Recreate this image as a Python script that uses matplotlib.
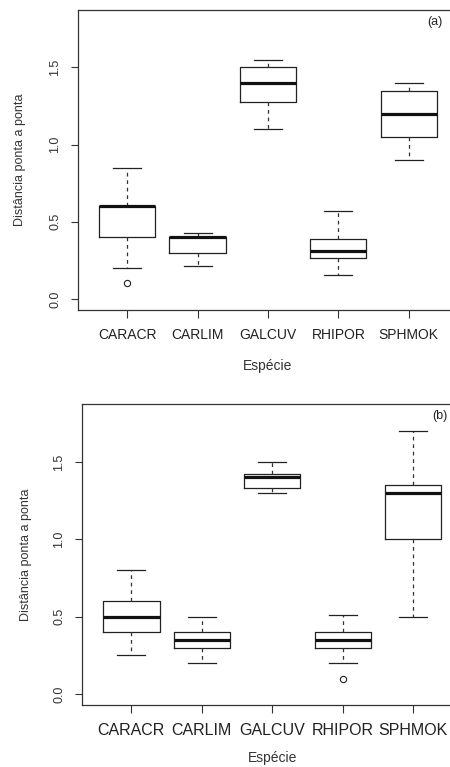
import matplotlib
matplotlib.use("Agg")
import matplotlib.pyplot as plt

plt.rcParams['font.family'] = ['Liberation Sans', 'DejaVu Sans']

species = ["CARACR", "CARLIM", "GALCUV", "RHIPOR", "SPHMOK"]

# panel (a): five-number summaries per species
a_whislo = [0.20, 0.215, 1.10, 0.155, 0.90]
a_q1     = [0.40, 0.30, 1.275, 0.265, 1.05]
a_med    = [0.60, 0.40, 1.40, 0.31, 1.20]
a_q3     = [0.60, 0.40, 1.50, 0.39, 1.35]
a_whishi = [0.85, 0.43, 1.55, 0.57, 1.40]
a_fliers = [[0.105], [], [], [], []]

# panel (b)
b_whislo = [0.25, 0.20, 1.30, 0.20, 0.50]
b_q1     = [0.40, 0.30, 1.33, 0.30, 1.00]
b_med    = [0.50, 0.35, 1.40, 0.35, 1.30]
b_q3     = [0.60, 0.40, 1.42, 0.40, 1.35]
b_whishi = [0.80, 0.50, 1.50, 0.51, 1.70]
b_fliers = [[], [], [], [0.10], []]

yticks = [0.0, 0.5, 1.0, 1.5]
ytick_labels = ["0.0", "0.5", "1.0", "1.5"]


def make_stats(lo, q1, med, q3, hi, fl):
    return [dict(whislo=a, q1=b, med=c, q3=d, whishi=e, fliers=f, label=s)
            for a, b, c, d, e, f, s in zip(lo, q1, med, q3, hi, fl, species)]


def draw_panel(ax, stats, tag, xfont, ypad, xpad):
    ax.bxp(stats, positions=range(1, 6), widths=0.8,
           boxprops=dict(color='#222222', linewidth=0.9),
           medianprops=dict(color='#111111', linewidth=2.3, solid_capstyle='butt'),
           whiskerprops=dict(color='#333333', linewidth=0.9, linestyle=(0, (3, 3))),
           capprops=dict(color='#222222', linewidth=0.9),
           flierprops=dict(marker='o', markerfacecolor='none',
                           markeredgecolor='#222222', markersize=4.5,
                           markeredgewidth=0.8))
    ax.set_xlim(0.3, 5.7)
    ax.set_ylim(-0.072, 1.872)
    ax.set_yticks(yticks)
    ax.set_yticklabels(ytick_labels, rotation=90, va='center', fontsize=9,
                       color='#333333')
    ax.set_xticks(range(1, 6))
    ax.set_xticklabels(species, fontsize=xfont, color='#222222')
    ax.tick_params(axis='y', length=5, width=0.8, pad=7, color='#333333')
    ax.tick_params(axis='x', length=6, width=0.8, pad=7, color='#333333')
    for sp in ax.spines.values():
        sp.set_linewidth(0.9)
        sp.set_color('#333333')
    ax.set_ylabel("Distância ponta a ponta", fontsize=9, color='#333333',
                  labelpad=ypad)
    ax.set_xlabel("Espécie", fontsize=10, color='#333333', labelpad=xpad)
    ax.text(0.94, 0.96, tag, transform=ax.transAxes, fontsize=9,
            ha='center', va='center', color='#222222')


fig = plt.figure(figsize=(4.5, 7.67), dpi=100)
ax_a = fig.add_axes([0.1733, 0.5958, 0.8444, 0.3911])
ax_b = fig.add_axes([0.1822, 0.0804, 0.8458, 0.3925])

draw_panel(ax_a, make_stats(a_whislo, a_q1, a_med, a_q3, a_whishi, a_fliers),
           "(a)", 10, 17, 12)
draw_panel(ax_b, make_stats(b_whislo, b_q1, b_med, b_q3, b_whishi, b_fliers),
           "(b)", 11.5, 15, 9)

fig.savefig("out.png", dpi=100)
